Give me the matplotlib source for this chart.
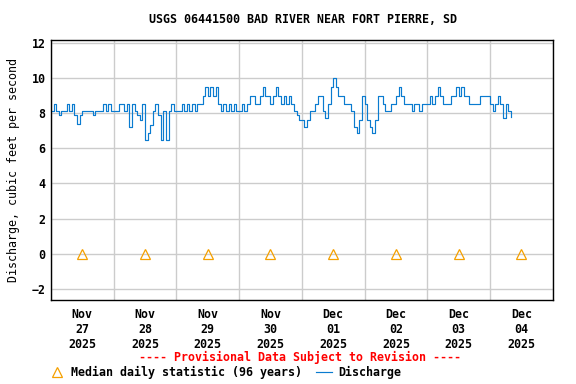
import matplotlib
matplotlib.use("Agg")
import matplotlib.pyplot as plt
import matplotlib.dates as mdates
import numpy as np
import pandas as pd

# Hourly discharge (cfs), starting 2025-11-27 00:00
nov27 = [8.1, 8.5, 8.1, 7.9, 8.1, 8.1, 8.5, 8.1, 8.5, 7.9, 7.4, 7.9,
         8.1, 8.1, 8.1, 8.1, 7.9, 8.1, 8.1, 8.1, 8.5, 8.1, 8.5, 8.1]
nov28 = [8.1, 8.1, 8.5, 8.5, 8.1, 8.5, 7.2, 8.5, 8.1, 7.9, 7.6, 8.5,
         6.5, 6.9, 7.3, 8.1, 8.5, 7.9, 6.5, 8.1, 6.5, 8.1, 8.5, 8.1]
nov29 = [8.1, 8.1, 8.5, 8.1, 8.5, 8.1, 8.5, 8.1, 8.5, 8.5, 9.0, 9.5,
         9.0, 9.5, 9.0, 9.5, 8.5, 8.1, 8.5, 8.1, 8.5, 8.1, 8.5, 8.1]
nov30 = [8.1, 8.5, 8.1, 8.5, 9.0, 9.0, 8.5, 8.5, 9.0, 9.5, 9.0, 9.0,
         8.5, 9.0, 9.5, 9.0, 8.5, 9.0, 8.5, 9.0, 8.5, 8.1, 7.9, 7.6]
dec01 = [7.6, 7.2, 7.6, 8.1, 8.1, 8.5, 9.0, 9.0, 8.1, 7.7, 8.5, 9.5,
         10.0, 9.5, 9.0, 9.0, 8.5, 8.5, 8.5, 8.1, 7.2, 6.9, 7.6, 9.0]
dec02 = [8.5, 7.6, 7.2, 6.9, 7.6, 9.0, 9.0, 8.5, 8.1, 8.1, 8.5, 8.5,
         9.0, 9.5, 9.0, 8.5, 8.5, 8.5, 8.1, 8.5, 8.5, 8.1, 8.5, 8.5]
dec03 = [8.5, 9.0, 8.5, 9.0, 9.5, 9.0, 8.5, 8.5, 8.5, 9.0, 9.0, 9.5,
         9.0, 9.5, 9.0, 9.0, 8.5, 8.5, 8.5, 8.5, 9.0, 9.0, 9.0, 9.0]
dec04 = [8.5, 8.1, 8.5, 9.0, 8.5, 7.7, 8.5, 8.1, 7.8]

discharge = nov27 + nov28 + nov29 + nov30 + dec01 + dec02 + dec03 + dec04
times = pd.date_range("2025-11-27 00:00", periods=len(discharge), freq="h")

# Median daily statistic (96 years), plotted at noon of each day
median_days = pd.date_range("2025-11-27 12:00", periods=8, freq="D")
median_vals = [0, 0, 0, 0, 0, 0, 0, 0]

plt.rcParams["font.family"] = "DejaVu Sans Mono"
plt.rcParams["font.weight"] = "bold"
plt.rcParams["font.size"] = 8.4

fig = plt.figure(figsize=(5.76, 3.84), dpi=100)
ax = fig.add_axes([0.0885, 0.219, 0.871, 0.677])

line, = ax.plot(times, discharge, color="#0a7bd0", lw=0.85, drawstyle="steps-post",
                label="Discharge")
tri, = ax.plot(median_days, median_vals, linestyle="none", marker="^", markersize=7,
               markerfacecolor="none", markeredgecolor="#f5a000", markeredgewidth=0.9,
               label="Median daily statistic (96 years)")

ax.set_xlim(pd.Timestamp("2025-11-27 00:00"), pd.Timestamp("2025-12-05 00:00"))
ax.set_ylim(-2.63, 12.17)
ax.set_yticks(np.arange(-2, 13, 2))

ax.xaxis.set_major_locator(mdates.HourLocator(byhour=[12]))
ax.xaxis.set_major_formatter(mdates.DateFormatter("%b\n%d\n%Y"))
ax.xaxis.set_minor_locator(mdates.DayLocator())
ax.tick_params(axis="x", which="both", length=0, pad=6)
ax.tick_params(axis="y", length=0, pad=4)
for lab in ax.get_xticklabels():
    lab.set_linespacing(1.2)

ax.grid(True, axis="y", color="#cccccc", lw=1)
ax.grid(True, axis="x", which="minor", color="#cccccc", lw=1)
ax.set_axisbelow(True)
for sp in ax.spines.values():
    sp.set_linewidth(1.0)

ax.set_ylabel("Discharge, cubic feet per second", labelpad=8)
fig.text(0.526, 0.950, "USGS 06441500 BAD RIVER NEAR FORT PIERRE, SD", ha="center", va="center")
fig.text(0.521, 0.068, "---- Provisional Data Subject to Revision ----", ha="center",
         va="center", color="red")

fig.legend(handles=[tri, line], loc="center left", bbox_to_anchor=(0.085, 0.031),
           ncol=2, frameon=False, handlelength=1.4, handletextpad=0.5,
           columnspacing=1.2, borderpad=0, borderaxespad=0)

fig.savefig("out.png", dpi=100)
